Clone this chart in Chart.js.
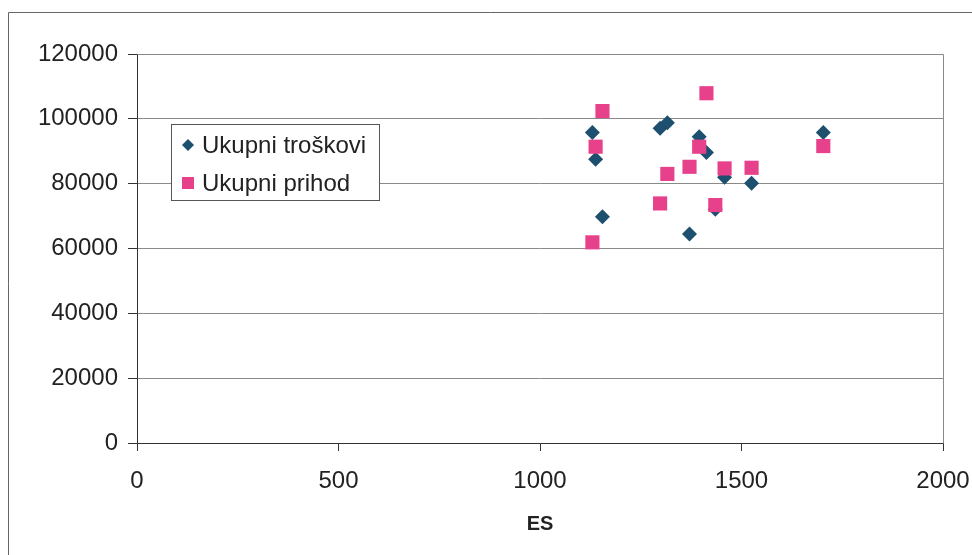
<!DOCTYPE html>
<html>
<head>
<meta charset="utf-8">
<script src="https://cdn.jsdelivr.net/npm/chart.js@4"></script>
<style>
html,body{margin:0;padding:0;background:#fff;}
#wrap{width:972px;height:555px;position:relative;}
canvas{display:block;}
</style>
</head>
<body>
<div id="wrap"><canvas id="c" width="972" height="555"></canvas></div>
<script>
// ---- data ----
const es       = [1130, 1138, 1155, 1298, 1316, 1371, 1395, 1413, 1435, 1458, 1525, 1703];
const troskovi = [95800, 87500, 69800, 97100, 98800, 64500, 94500, 89600, 72100, 82000, 80100, 95800];
const prihod   = [61900, 91400, 102400, 73900, 83000, 85200, 91400, 107900, 73400, 84700, 84900, 91600];
const seriesNames = ['Ukupni troškovi', 'Ukupni prihod'];
const xAxisTitle = 'ES';
const xRange = [0, 2000];
const xStep = 500;
const yRange = [0, 120000];
const yStep = 20000;

const BLUE = '#1d4f6e';
const PINK = '#e8418c';
const FONT = "'Liberation Sans', Arial, sans-serif";

const toPts = (xs, ys) => xs.map((x, i) => ({x: x, y: ys[i]}));
const plain = v => String(v);

const framePlugin = {
  id: 'frame',
  beforeDraw(chart) {
    const ctx = chart.ctx;
    ctx.save();
    ctx.fillStyle = '#fff';
    ctx.fillRect(0, 0, chart.width, chart.height);
    ctx.strokeStyle = '#666';
    ctx.lineWidth = 1;
    ctx.beginPath();
    ctx.moveTo(8.5, 555); ctx.lineTo(8.5, 12.5); ctx.lineTo(972, 12.5);
    ctx.stroke();
    ctx.restore();
  },
  beforeDatasetsDraw(chart) {
    const a = chart.chartArea, ctx = chart.ctx;
    ctx.save();
    ctx.strokeStyle = '#8a8a8a';
    ctx.lineWidth = 1;
    ctx.beginPath();
    ctx.moveTo(Math.round(a.left) + 0.5, Math.round(a.top) + 0.5);
    ctx.lineTo(Math.round(a.right) + 0.5, Math.round(a.top) + 0.5);
    ctx.lineTo(Math.round(a.right) + 0.5, Math.round(a.bottom) + 0.5);
    ctx.stroke();
    ctx.restore();
  }
};

const legendPlugin = {
  id: 'boxLegend',
  afterDatasetsDraw(chart) {
    const ctx = chart.ctx;
    const bx = 171, by = 124, bw = 208, bh = 76;
    ctx.save();
    ctx.fillStyle = '#fff';
    ctx.fillRect(bx, by, bw, bh);
    ctx.strokeStyle = '#555';
    ctx.lineWidth = 1;
    ctx.strokeRect(bx + 0.5, by + 0.5, bw, bh);
    const rows = [
      {y: 145, ds: chart.data.datasets[0]},
      {y: 183, ds: chart.data.datasets[1]}
    ];
    rows.forEach(r => {
      ctx.fillStyle = r.ds.backgroundColor;
      if (r.ds.pointStyle === 'rectRot') {
        const s = 6;
        ctx.beginPath();
        ctx.moveTo(188, r.y - s); ctx.lineTo(188 + s, r.y);
        ctx.lineTo(188, r.y + s); ctx.lineTo(188 - s, r.y);
        ctx.closePath(); ctx.fill();
      } else {
        ctx.fillRect(182, r.y - 6, 12, 12);
      }
      ctx.fillStyle = '#222';
      ctx.font = '24px ' + FONT;
      ctx.textBaseline = 'middle';
      ctx.textAlign = 'left';
      ctx.fillText(r.ds.label, 202, r.y + 1);
    });
    ctx.restore();
  }
};

new Chart(document.getElementById('c'), {
  type: 'scatter',
  data: {
    datasets: [
      {
        label: seriesNames[0],
        data: toPts(es, troskovi),
        pointStyle: 'rectRot',
        pointRadius: 7.5,
        pointHoverRadius: 7.5,
        backgroundColor: BLUE,
        borderColor: BLUE,
        borderWidth: 0,
        order: 2
      },
      {
        label: seriesNames[1],
        data: toPts(es, prihod),
        pointStyle: 'rect',
        pointRadius: 10,
        pointHoverRadius: 10,
        backgroundColor: PINK,
        borderColor: PINK,
        borderWidth: 0,
        order: 1
      }
    ]
  },
  options: {
    responsive: false,
    animation: false,
    devicePixelRatio: 1,
    layout: {padding: {top: 54, right: 0, left: 0, bottom: 19}},
    plugins: {
      legend: {display: false},
      tooltip: {enabled: false},
      title: {display: false}
    },
    scales: {
      x: {
        type: 'linear',
        min: xRange[0], max: xRange[1],
        afterFit(s) { s.height = 555 - 19 - 443; s.paddingRight = 29; s.paddingLeft = 0; },
        ticks: {stepSize: xStep, color: '#222', font: {family: FONT, size: 24}, padding: 16, maxRotation: 0, callback: plain},
        grid: {drawOnChartArea: false, tickLength: 8, color: '#333', tickColor: '#333'},
        border: {color: '#333', width: 1},
        title: {display: true, text: xAxisTitle, color: '#222', font: {family: FONT, size: 20, weight: 'bold'}, padding: 0}
      },
      y: {
        type: 'linear',
        min: yRange[0], max: yRange[1],
        afterFit(s) { s.width = 137; },
        ticks: {stepSize: yStep, color: '#222', font: {family: FONT, size: 24}, padding: 10, callback: plain},
        grid: {color: '#8a8a8a', tickColor: '#333', tickLength: 9},
        border: {color: '#333', width: 1}
      }
    }
  },
  plugins: [framePlugin, legendPlugin]
});
</script>
</body>
</html>
